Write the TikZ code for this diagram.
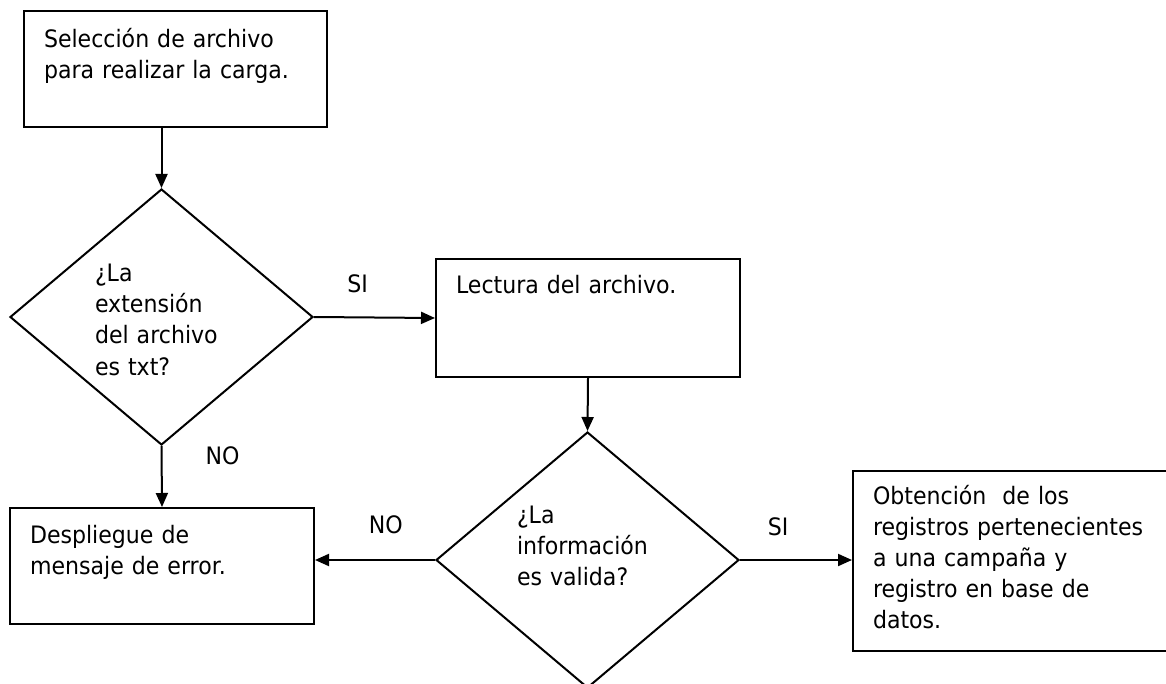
\documentclass[tikz,border=0pt]{standalone}
\usepackage{fontspec}
\setmainfont{DejaVu Sans}[FakeStretch=0.92]
\usetikzlibrary{shapes.geometric,arrows.meta}

\begin{document}
\begin{tikzpicture}[x=1pt,y=-1pt,>={Triangle[length=14pt,width=12pt]},
    every node/.style={font=\fontsize{24}{31}\selectfont},
    caja/.style={draw, line width=2pt, anchor=north west, inner xsep=20pt, inner ysep=0pt, align=left},
    decision/.style={draw, diamond, line width=2pt, minimum width=303pt, minimum height=256pt, inner sep=0pt, align=left},
    flecha/.style={->, line width=2pt}]
    \useasboundingbox (0,0) rectangle (1166,684);

    % cajas
    \node[caja, text width=263pt, text height=37pt, text depth=79pt] (sel) at (23,10) {Selección de archivo\\para realizar la carga.};
    \node[caja, text width=264pt, text height=35pt, text depth=83pt] (lect) at (435,258) {Lectura del archivo.};
    \node[caja, text width=264pt, text height=35pt, text depth=81pt] (err) at (9,507) {Despliegue de\\mensaje de error.};
    \node[caja, text width=300pt, text height=33pt, text depth=147pt] (obt) at (852,470) {Obtención\ \ de los\\registros pertenecientes\\a una campaña y\\registro en base de\\datos.};

    % decisiones
    \node[decision, text width=133pt, text height=20pt, text depth=90pt] (ext) at (161.5,317) {¿La\\extensión\\del archivo\\es txt?};
    \node[decision, text width=141pt, text height=20pt, text depth=94pt] (valid) at (587.5,560) {¿La\\información\\es valida?};

    % flechas
    \draw[flecha] (ext.north |- sel.south) -- (ext.north);
    \draw[flecha] (ext.east) -- node[pos=0.36, yshift=34pt] (si1) {SI} (lect.west);
    \draw[flecha] (lect.south) -- (valid.north);
    \draw[flecha] (ext.south) -- node[pos=0.16, xshift=61pt] (no1) {NO} (err.north);
    \draw[flecha] (valid.west) -- node[pos=0.41, yshift=35pt] (no2) {NO} (err.east |- valid.west);
    \draw[flecha] (valid.east) -- node[pos=0.34, yshift=33pt] (si2) {SI} (obt.west |- valid.east);
\end{tikzpicture}
\end{document}
